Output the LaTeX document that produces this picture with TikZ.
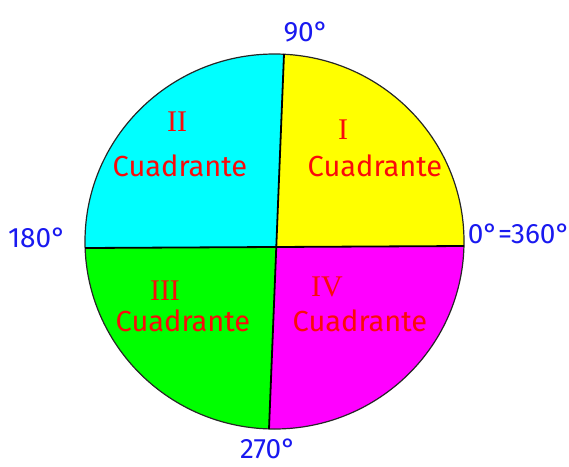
\documentclass[tikz,border=0pt]{standalone}
\usepackage{fontspec}
\setmainfont{Fira Sans}
\newfontfamily\numfont{Liberation Serif}
\definecolor{qcyan}{RGB}{0,255,255}
\definecolor{qyellow}{RGB}{255,255,0}
\definecolor{qgreen}{RGB}{0,255,0}
\definecolor{qmagenta}{RGB}{255,0,255}
\definecolor{qred}{RGB}{250,10,10}
\definecolor{qblue}{RGB}{25,25,240}
\begin{document}
\begin{tikzpicture}[x=1pt,y=-1pt,
  deg/.style={text=qblue, font=\fontsize{28}{30}\selectfont, inner sep=0pt},
  quad/.style={text=qred, font=\fontsize{29}{32}\selectfont, inner sep=0pt},
  num/.style={text=qred, font=\numfont\fontsize{30}{32}\selectfont, inner sep=0pt},
  divider/.style={draw=black, line width=1.8pt}]
\useasboundingbox (0,0) rectangle (569,466);
\coordinate (O) at (276.2,247);
\coordinate (T) at (284,54);
\coordinate (B) at (269,429);
\coordinate (L) at (85,248);
\coordinate (R) at (464,246);
\coordinate (Tx) at (286.2,0);
\coordinate (Bx) at (267.5,466);
\coordinate (Lx) at (0,248.4);
\coordinate (Rx) at (569,245.4);
\begin{scope}
  \clip (274.5,241.5) ellipse [x radius=189.5, y radius=187.5];
  \fill[qcyan] (O) -- (Tx) -- (0,0) -- (Lx) -- cycle;
  \fill[qyellow] (O) -- (Tx) -- (569,0) -- (Rx) -- cycle;
  \fill[qgreen] (O) -- (Lx) -- (0,466) -- (Bx) -- cycle;
  \fill[qmagenta] (O) -- (Bx) -- (569,466) -- (Rx) -- cycle;
\end{scope}
\draw[line width=1.2pt, black!85] (274.5,241.5) ellipse [x radius=189.5, y radius=187.5];
\draw[divider] (T) -- (B);
\draw[divider] (L) -- (R);
% quadrant labels
\node[num] (n2) at (177,122) {II};
\node[quad] (c2) at (180,166) {Cuadrante};
\node[num] (n1) at (343,130) {I};
\node[quad] (c1) at (375,166) {Cuadrante};
\node[num] (n3) at (165,291) {III};
\node[quad] (c3) at (183,321) {Cuadrante};
\node[num] (n4) at (327,287) {IV};
\node[quad] (c4) at (360,321) {Cuadrante};
% degree labels
\node[deg] (d90) at (306,32) {90°};
\node[deg] (d180) at (37,238) {180°};
\node[deg] (d0) at (519,234) {0°=360°};
\node[deg] (d270) at (268,449) {270°};
\end{tikzpicture}
\end{document}
